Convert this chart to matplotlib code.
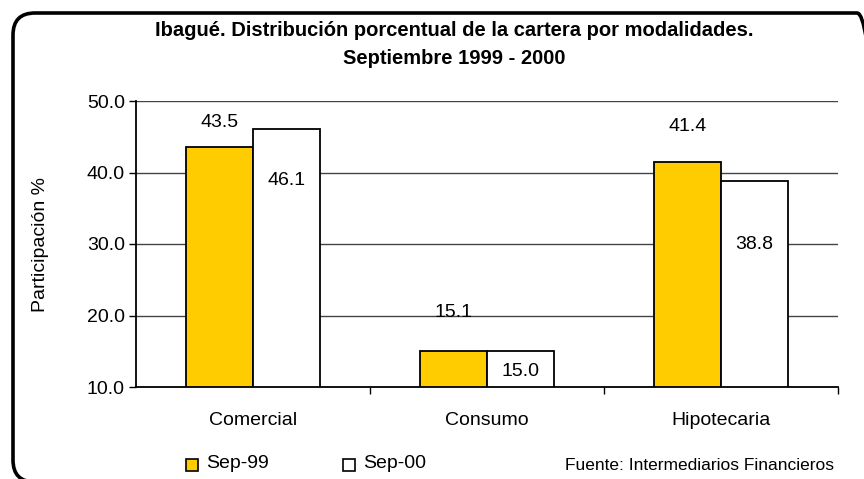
import matplotlib
matplotlib.use("Agg")
import matplotlib.pyplot as plt
import numpy as np
from matplotlib.patches import FancyBboxPatch, Rectangle

plt.rcParams['font.family'] = ['Liberation Sans', 'DejaVu Sans']

categorias = ["Comercial", "Consumo", "Hipotecaria"]
sep_99 = [43.5, 15.1, 41.4]
sep_00 = [46.1, 15.0, 38.8]
series = ["Sep-99", "Sep-00"]
yticks = [10.0, 20.0, 30.0, 40.0, 50.0]

# desplazamiento de las etiquetas (pixeles, + arriba) respecto al tope de cada barra
off_99 = [25, 38, 36]
off_00 = [-52, -20, -63]

W, H = 864, 479
fig = plt.figure(figsize=(W / 100, H / 100), dpi=100)

# fondo en coordenadas de pixel para el marco redondeado (y hacia arriba)
bg = fig.add_axes([0, 0, 1, 1], zorder=-1)
bg.set_xlim(0, W)
bg.set_ylim(0, H)
bg.axis("off")
bg.add_patch(FancyBboxPatch((13, H - 482), 866, 482 - 13,
                            boxstyle="round,pad=0,rounding_size=22",
                            fill=False, lw=2.6, ec="black", clip_on=False))

ax = fig.add_axes([136 / W, 1 - 387 / H, (838 - 136) / W, (387 - 101) / H])
x = np.arange(len(categorias))
w = 0.286
ax.bar(x - w / 2, np.array(sep_99) - 10, w, bottom=10, color="#FFCC00",
       edgecolor="black", lw=1.3, zorder=3)
ax.bar(x + w / 2, np.array(sep_00) - 10, w, bottom=10, color="white",
       edgecolor="black", lw=1.3, zorder=3)

for i in range(len(categorias)):
    ax.annotate(f"{sep_99[i]:.1f}", (x[i] - w / 2, sep_99[i]),
                xytext=(0, off_99[i] * 0.72), textcoords="offset points",
                ha="center", va="center", fontsize=14, zorder=5)
    ax.annotate(f"{sep_00[i]:.1f}", (x[i] + w / 2, sep_00[i]),
                xytext=(0, off_00[i] * 0.72), textcoords="offset points",
                ha="center", va="center", fontsize=14, zorder=5)

ax.set_xlim(-0.5, 2.5)
ax.set_ylim(10, 50)
ax.set_yticks(yticks)
ax.set_yticklabels([f"{v:.1f}" for v in yticks], fontsize=14)
ax.set_xticks(x)
ax.set_xticklabels(categorias, fontsize=14)
ax.set_xticks([0.5, 1.5, 2.5], minor=True)
ax.tick_params(axis="x", which="major", length=0, pad=18)
ax.tick_params(axis="x", which="minor", length=5, direction="out", width=1)
ax.tick_params(axis="y", length=5, direction="out", width=1, pad=3)
ax.yaxis.grid(True, color="#444444", lw=1, zorder=0)
for s in ["top", "right"]:
    ax.spines[s].set_visible(False)
ax.spines["left"].set_lw(1.3)
ax.spines["bottom"].set_lw(1.3)
ax.set_ylabel("Participación %", fontsize=14, labelpad=27)

fig.text(454 / W, 1 - 31 / H, "Ibagué. Distribución porcentual de la cartera por modalidades.",
         ha="center", va="center", fontsize=14.5, fontweight="bold")
fig.text(454 / W, 1 - 59 / H, "Septiembre 1999 - 2000",
         ha="center", va="center", fontsize=14.5, fontweight="bold")

# leyenda
for xp, col, lab in [(186, "#FFCC00", series[0]), (343, "white", series[1])]:
    fig.patches.append(Rectangle((xp / W, 1 - 471 / H), 12 / W, 12 / H,
                                 transform=fig.transFigure, fc=col, ec="black", lw=1.2))
    fig.text((xp + 20) / W, 1 - 464 / H, lab, ha="left", va="center", fontsize=14)

fig.text(834 / W, 1 - 465 / H, "Fuente: Intermediarios Financieros",
         ha="right", va="center", fontsize=12.5)

fig.savefig("out.png", dpi=100)
